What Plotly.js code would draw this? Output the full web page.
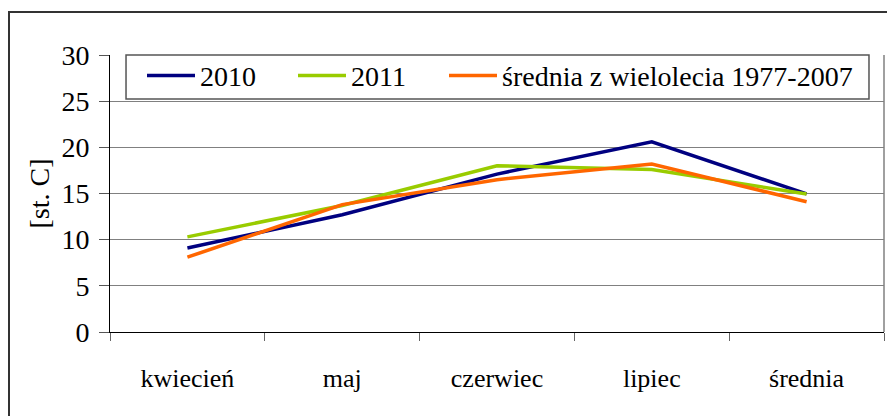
<!DOCTYPE html>
<html>
<head>
<meta charset="utf-8">
<script src="https://cdn.plot.ly/plotly-3.0.1.min.js"></script>
<style>
  html, body { margin: 0; padding: 0; background: #fff; overflow: hidden; }
  #wrap { position: relative; width: 887px; height: 416px; overflow: hidden; }
  #chart { width: 887px; height: 416px; }
  #frame { position: absolute; left: 8px; top: 11px; width: 920px; height: 460px;
           border: 2px solid #333; pointer-events: none; box-sizing: border-box; }
</style>
</head>
<body>
<div id="wrap">
  <div id="chart"></div>
  <div id="frame"></div>
</div>
<script>
const categories = ['kwiecień', 'maj', 'czerwiec', 'lipiec', 'średnia'];
const seriesNames = ['2010', '2011', 'średnia z wielolecia 1977-2007'];
const values2010 = [9.1, 12.7, 17.1, 20.6, 14.95];
const values2011 = [10.3, 13.7, 18.0, 17.6, 14.95];
const valuesAvg = [8.1, 13.8, 16.5, 18.2, 14.1];
const yTicks = [0, 5, 10, 15, 20, 25, 30];
const colors = ['#000080', '#99CC00', '#FF6600'];
const legendIds = ['legend', 'legend2', 'legend3'];

const font = 'Liberation Serif';

const traces = [values2010, values2011, valuesAvg].map((v, i) => ({
  type: 'scatter',
  mode: 'lines',
  x: categories,
  y: v,
  name: seriesNames[i],
  legend: legendIds[i],
  line: { color: colors[i], width: 3.5 },
  hoverinfo: 'skip'
}));

function legendAt(px) {
  return {
    x: (px - 110) / 774, xanchor: 'left',
    y: 1.015, yanchor: 'top',
    bgcolor: 'rgba(0,0,0,0)',
    borderwidth: 0,
    itemwidth: 48,
    font: { family: font, size: 28, color: '#000' }
  };
}

const layout = {
  width: 887,
  height: 416,
  margin: { l: 110, r: 3, t: 55, b: 84 },
  paper_bgcolor: '#ffffff',
  plot_bgcolor: '#ffffff',
  font: { family: font, color: '#000', size: 28 },
  showlegend: true,
  legend: legendAt(142),
  legend2: legendAt(293),
  legend3: legendAt(444),
  xaxis: {
    type: 'category',
    range: [-0.5, 4.5],
    showgrid: false,
    showline: true,
    linecolor: '#000',
    linewidth: 1,
    ticks: 'outside',
    tickson: 'boundaries',
    ticklen: 8,
    tickcolor: '#666',
    tickfont: { family: font, size: 26, color: '#000' },
    ticklabelstandoff: 23,
    fixedrange: true
  },
  yaxis: {
    range: [0, 30],
    tickvals: yTicks,
    ticktext: yTicks.map(String),
    showgrid: true,
    gridcolor: '#808080',
    gridwidth: 1,
    zeroline: false,
    showline: true,
    linecolor: '#000',
    linewidth: 1,
    ticks: 'outside',
    ticklen: 10,
    tickcolor: '#555',
    tickfont: { family: font, size: 28, color: '#000' },
    ticklabelstandoff: 4,
    title: { text: '[st. C]', font: { family: font, size: 28, color: '#000' }, standoff: 3 },
    fixedrange: true
  },
  shapes: [
    { type: 'line', xref: 'paper', yref: 'paper', x0: 1, x1: 1, y0: 0, y1: 1,
      line: { color: '#808080', width: 1.5 } },
    { type: 'rect', xref: 'paper', yref: 'paper', x0: 0.0207, x1: 0.9806, y0: 0.841, y1: 1,
      line: { color: '#555', width: 1.5 }, fillcolor: 'rgba(0,0,0,0)', layer: 'above' }
  ]
};

Plotly.newPlot('chart', traces, layout, { staticPlot: true, displayModeBar: false });
</script>
</body>
</html>
